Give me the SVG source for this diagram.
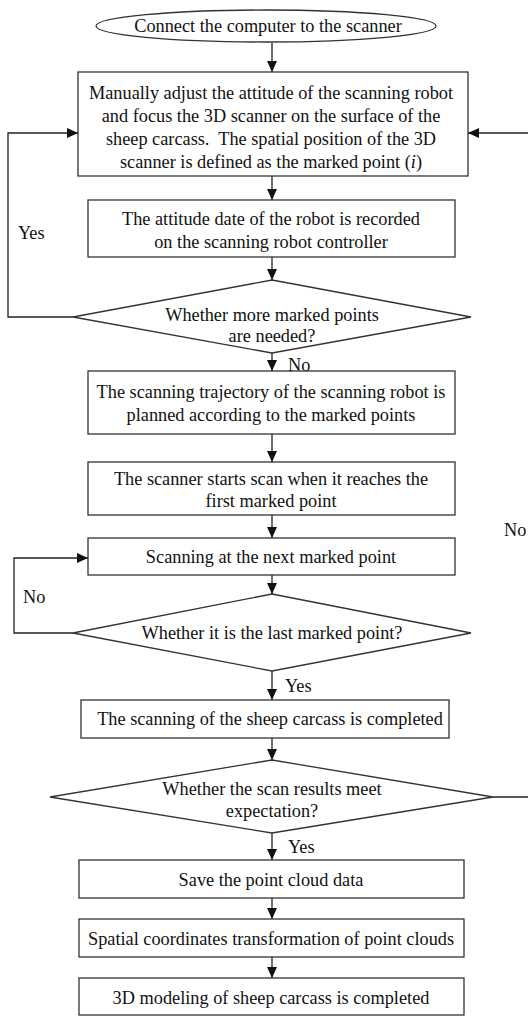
<svg xmlns="http://www.w3.org/2000/svg" width="528" height="1016" viewBox="0 0 528 1016">
<style>
.n{fill:#fff;stroke:#333;stroke-width:1.3}
.t{font-family:"Liberation Serif","Times New Roman",serif;font-size:18.3px;fill:#111;text-anchor:middle}
.l{font-family:"Liberation Serif","Times New Roman",serif;font-size:18.3px;fill:#111}
.c{fill:none;stroke:#222;stroke-width:1.3}
</style>
<defs>
<marker id="ah" markerWidth="11" markerHeight="10" refX="11" refY="5" orient="auto" markerUnits="userSpaceOnUse">
<path d="M0,0 L11,5 L0,10 Z" fill="#111"/>
</marker>
</defs>
<rect width="528" height="1016" fill="#fff"/>
<g id="connectors">
<path class="c" d="M272,43 V72" marker-end="url(#ah)"/>
<path class="c" d="M272,176 V200" marker-end="url(#ah)"/>
<path class="c" d="M272,257 V280" marker-end="url(#ah)"/>
<path class="c" d="M73,317 H8 V133 H78" marker-end="url(#ah)"/>
<path class="c" d="M272,353 V371" marker-end="url(#ah)"/>
<path class="c" d="M272,434 V462" marker-end="url(#ah)"/>
<path class="c" d="M272,515 V538" marker-end="url(#ah)"/>
<path class="c" d="M272,575 V594" marker-end="url(#ah)"/>
<path class="c" d="M73,633 H14 V558 H88" marker-end="url(#ah)"/>
<path class="c" d="M272,671 V700" marker-end="url(#ah)"/>
<path class="c" d="M272,738 V760" marker-end="url(#ah)"/>
<path class="c" d="M493,797 H531 V133 H468" marker-end="url(#ah)"/>
<path class="c" d="M272,833 V860" marker-end="url(#ah)"/>
<path class="c" d="M272,898 V919" marker-end="url(#ah)"/>
<path class="c" d="M272,957 V978" marker-end="url(#ah)"/>
<text class="l" x="18" y="239">Yes</text>
<text class="l" x="288" y="371">No</text>
<text class="l" x="23" y="603">No</text>
<text class="l" x="285" y="692">Yes</text>
<text class="l" x="504" y="536">No</text>
<text class="l" x="288" y="853">Yes</text>
</g>
<g id="start">
<ellipse class="n" cx="266" cy="26" rx="170" ry="16"/>
<text class="t" x="268" y="32">Connect the computer to the scanner</text>
</g>
<g id="adjust">
<rect class="n" x="78" y="72" width="390" height="104"/>
<text class="t" x="271" y="99">Manually adjust the attitude of the scanning robot</text>
<text class="t" x="271" y="122">and focus the 3D scanner on the surface of the</text>
<text class="t" x="271" y="145">sheep carcass.&#160; The spatial position of the 3D</text>
<text class="t" x="271" y="168">scanner is defined as the marked point (<tspan font-style="italic">i</tspan>)</text>
</g>
<g id="record">
<rect class="n" x="88" y="200" width="367" height="57"/>
<text class="t" x="271" y="225">The attitude date of the robot is recorded</text>
<text class="t" x="271" y="248">on the scanning robot controller</text>
</g>
<g id="more">
<polygon class="n" points="272,280 471,317 272,353 73,317"/>
<text class="t" x="272" y="321">Whether more marked points</text>
<text class="t" x="272" y="342">are needed?</text>
</g>
<g id="plan">
<rect class="n" x="88" y="371" width="367" height="63"/>
<text class="t" x="271" y="398">The scanning trajectory of the scanning robot is</text>
<text class="t" x="271" y="421">planned according to the marked points</text>
</g>
<g id="start-scan">
<rect class="n" x="88" y="462" width="367" height="53"/>
<text class="t" x="271" y="485">The scanner starts scan when it reaches the</text>
<text class="t" x="271" y="507">first marked point</text>
</g>
<g id="next">
<rect class="n" x="88" y="538" width="367" height="37"/>
<text class="t" x="271" y="563">Scanning at the next marked point</text>
</g>
<g id="last">
<polygon class="n" points="272,594 471,633 272,671 73,633"/>
<text class="t" x="272" y="639">Whether it is the last marked point?</text>
</g>
<g id="complete">
<rect class="n" x="81" y="700" width="368" height="38"/>
<text class="t" x="270" y="725">The scanning of the sheep carcass is completed</text>
</g>
<g id="expect">
<polygon class="n" points="272,760 493,797 272,833 50,797"/>
<text class="t" x="272" y="795">Whether the scan results meet</text>
<text class="t" x="272" y="817">expectation?</text>
</g>
<g id="save">
<rect class="n" x="79" y="860" width="385" height="38"/>
<text class="t" x="271" y="886">Save the point cloud data</text>
</g>
<g id="transform">
<rect class="n" x="79" y="919" width="385" height="38"/>
<text class="t" x="271" y="945">Spatial coordinates transformation of point clouds</text>
</g>
<g id="model">
<rect class="n" x="79" y="978" width="385" height="37"/>
<text class="t" x="271" y="1004">3D modeling of sheep carcass is completed</text>
</g>
</svg>
